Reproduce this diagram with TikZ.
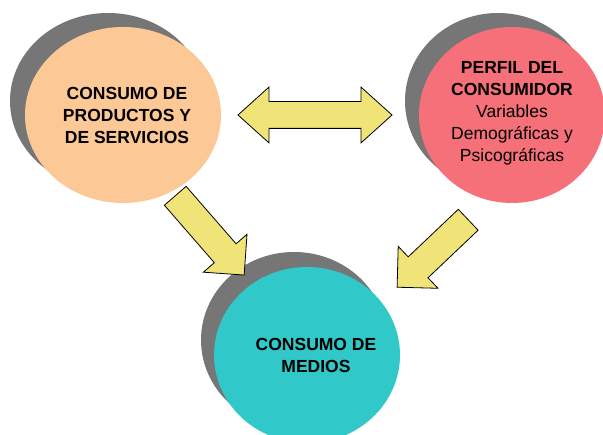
\documentclass[tikz,border=0pt]{standalone}
\usepackage{fontspec}
\setmainfont{Liberation Sans}
\usetikzlibrary{shapes.geometric,shapes.arrows}
\definecolor{peach}{RGB}{252,200,150}
\definecolor{rose}{RGB}{245,112,120}
\definecolor{aqua}{RGB}{48,200,200}
\definecolor{shadowgray}{RGB}{118,118,118}
\definecolor{arrowyellow}{RGB}{240,228,120}

\begin{document}
\begin{tikzpicture}[x=1pt,y=1pt,
  bubble/.style={ellipse,inner sep=0pt,minimum width=186pt,minimum height=176pt},
  backshade/.style={bubble,fill=shadowgray},
  bubbletext/.style={align=center,font=\fontsize{17.5}{22}\selectfont},
  blockarrow/.style={single arrow,draw=black,line width=0.8pt,fill=arrowyellow,inner xsep=0pt,inner ysep=14pt,single arrow head extend=14.5pt,single arrow tip angle=90,anchor=tail}]
\useasboundingbox (0,0) rectangle (603,435);
% shadows first
\node[backshade,minimum width=196pt] (consumo-sh) at (108,334) {};
\node[backshade] (perfil-sh) at (498,334) {};
\node[backshade] (medios-sh) at (294,95) {};
% the three bubbles
\node[bubble,fill=peach,minimum width=196pt] (consumo) at (123,320) {};
\node[bubble,fill=rose] (perfil) at (512,320) {};
\node[bubble,fill=aqua] (medios) at (307,80) {};
\node[bubbletext] (consumo-txt) at ([xshift=4pt]consumo.center) {\bfseries CONSUMO DE\\\bfseries PRODUCTOS Y\\\bfseries DE SERVICIOS};
\node[bubbletext] (perfil-txt) at ([yshift=2pt]perfil.center) {\bfseries PERFIL DEL\\\bfseries CONSUMIDOR\\Variables\\Demográficas y\\Psicográficas};
\node[bubbletext] (medios-txt) at ([xshift=9pt]medios.center) {\bfseries CONSUMO DE\\\bfseries MEDIOS};
% block arrows
\node[double arrow,draw=black,line width=0.8pt,fill=arrowyellow,inner xsep=0pt,inner ysep=13pt,double arrow head extend=14.5pt,double arrow tip angle=84,minimum height=154pt] (link) at (315,320) {};
\node[blockarrow,minimum height=105pt,rotate=-49] (toMedL) at (175,239.5) {};
\node[blockarrow,minimum height=98pt,rotate=223.5] (toMedR) at (468.5,215.5) {};
\end{tikzpicture}
\end{document}
